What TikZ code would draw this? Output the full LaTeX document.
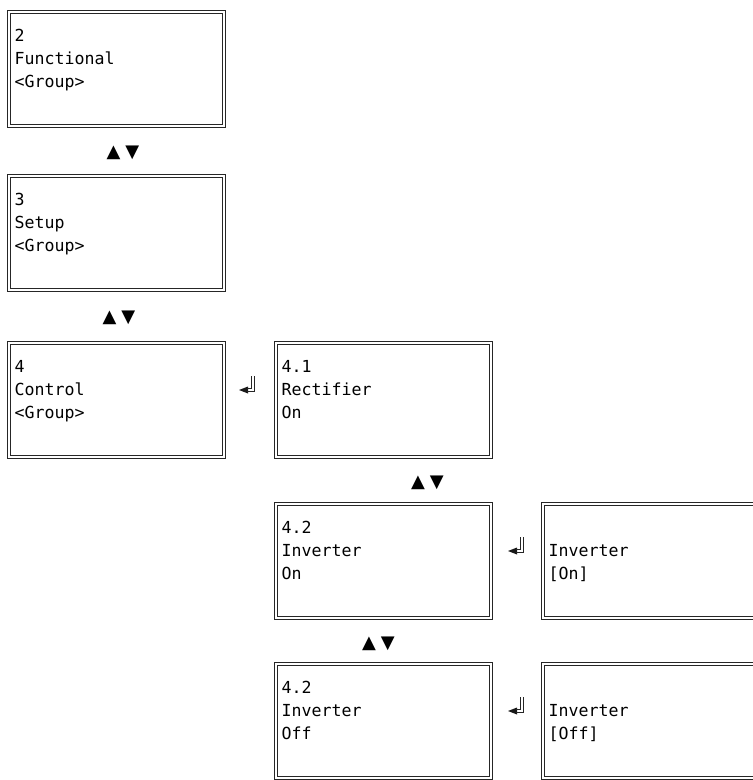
\documentclass[tikz,border=0pt]{standalone}
\usepackage{fontspec}
\newfontfamily\monof{DejaVu Sans Mono}
\newfontfamily\symf{DejaVu Sans}
\begin{document}
\begin{tikzpicture}[x=1pt,y=-1pt,
  scrline/.style={draw=black!85, line width=1.15pt},
  txt/.style={anchor=base west, inner sep=0pt, font=\monof\fontsize{16.6}{19}\selectfont, text=black},
  updown/.style={anchor=base, inner sep=0pt, font=\symf\fontsize{18}{20}\selectfont, text=black},
  entl/.style={draw=black!85, line width=1pt},
]
\useasboundingbox (0,0) rectangle (753,780);
\clip (0,0) rectangle (753,780);

% screens: outer/inner double frame
\foreach \n/\x/\y in {b1/7/10, b2/7/174, b3/7/341, b41/274/341, b42/274/502, r42/541/502, b43/274/662, r43/541/662}{
  \coordinate (\n) at (\x,\y);
  \draw[scrline] ([shift={(0.6,0.6)}]\n) rectangle ([shift={(218.4,117.4)}]\n);
  \draw[scrline] ([shift={(3.3,3.3)}]\n) rectangle ([shift={(215.7,114.7)}]\n);
}

% texts
\node[txt] (t1a) at (14.5,41) {2};
\node[txt] (t1b) at (14.5,64) {Functional};
\node[txt] (t1c) at (14.5,87) {<Group>};
\node[txt] (t2a) at (14.5,205) {3};
\node[txt] (t2b) at (14.5,228) {Setup};
\node[txt] (t2c) at (14.5,251) {<Group>};
\node[txt] (t3a) at (14.5,372) {4};
\node[txt] (t3b) at (14.5,395) {Control};
\node[txt] (t3c) at (14.5,418) {<Group>};
\node[txt] (t41a) at (281.5,372) {4.1};
\node[txt] (t41b) at (281.5,395) {Rectifier};
\node[txt] (t41c) at (281.5,418) {On};
\node[txt] (t42a) at (281.5,533) {4.2};
\node[txt] (t42b) at (281.5,556) {Inverter};
\node[txt] (t42c) at (281.5,579) {On};
\node[txt] (r42b) at (548.5,556) {Inverter};
\node[txt] (r42c) at (548.5,579) {[On]};
\node[txt] (t43a) at (281.5,693) {4.2};
\node[txt] (t43b) at (281.5,716) {Inverter};
\node[txt] (t43c) at (281.5,739) {Off};
\node[txt] (r43b) at (548.5,716) {Inverter};
\node[txt] (r43c) at (548.5,739) {[Off]};

% up/down keys
\node[updown] (ud1) at (123,157) {▲\kern5pt▼};
\node[updown] (ud2) at (119,322) {▲\kern5pt▼};
\node[updown] (ud3) at (427.5,487) {▲\kern5pt▼};
\node[updown] (ud4) at (378.5,648) {▲\kern5pt▼};

% enter keys
\foreach \n/\ex/\ey in {e1/239/390, e2/508/551, e3/508/711}{
  \coordinate (\n) at (\ex,\ey);
  \fill[black!90] (\n) -- ++(9,-3.5) -- ++(0,7) -- cycle;
  \draw[entl] ([shift={(12,-14)}]\n) -- ([shift={(12,-1.5)}]\n) -- ([shift={(8,-1.5)}]\n);
  \draw[entl] ([shift={(15,-14)}]\n) -- ([shift={(15,1.5)}]\n) -- ([shift={(8,1.5)}]\n);
}
\end{tikzpicture}
\end{document}
